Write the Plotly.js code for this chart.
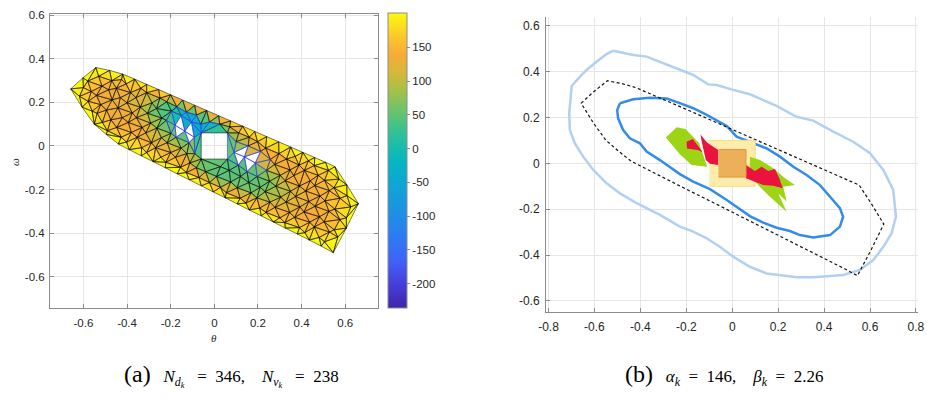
<!DOCTYPE html>
<html><head><meta charset="utf-8">
<script src="https://cdn.plot.ly/plotly-3.0.1.min.js"></script>
<style>html,body{margin:0;padding:0;background:#fff}</style>
</head><body><div id="chart" style="width:927px;height:399px"></div>
<script>
// ---------------- DATA ----------------
// (a) mesh boundary (also the dashed polygon in (b))
const boundaryX = [-0.658,-0.602,-0.543,-0.480,-0.420,-0.365,-0.310,-0.255,-0.200,-0.145,-0.090,-0.035,0.020,0.075,0.130,0.185,0.240,0.295,0.350,0.405,0.460,0.510,0.553,0.607,0.660,0.605,0.545,0.490,0.435,0.380,0.325,0.270,0.215,0.160,0.105,0.050,-0.005,-0.060,-0.115,-0.170,-0.225,-0.280,-0.335,-0.390,-0.440,-0.495,-0.550,-0.606];
const boundaryY = [0.262,0.313,0.360,0.347,0.330,0.307,0.283,0.259,0.235,0.211,0.187,0.163,0.139,0.115,0.091,0.067,0.043,0.019,-0.005,-0.029,-0.053,-0.075,-0.095,-0.178,-0.265,-0.377,-0.490,-0.460,-0.432,-0.404,-0.377,-0.349,-0.321,-0.294,-0.266,-0.238,-0.211,-0.183,-0.155,-0.128,-0.100,-0.072,-0.045,-0.017,0.009,0.053,0.100,0.178];
const boundaryV = [210,210,210,210,210,210,205,205,200,195,200,200,200,205,205,205,205,210,210,210,210,210,210,210,210,210,210,210,210,210,210,210,210,210,210,210,210,210,210,210,210,210,210,210,210,210,210,210];

// (a) interior mesh nodes (null = void node)
const meshX = [
-0.618,-0.600,
-0.560,-0.578,-0.564,-0.580,
-0.513,-0.537,-0.521,-0.540,-0.515,-0.530,
-0.490,-0.474,-0.494,-0.468,-0.484,-0.470,
-0.427,-0.447,-0.422,-0.441,-0.431,-0.449,-0.425,
-0.402,-0.380,-0.394,-0.376,-0.400,-0.384,-0.404,
-0.333,-0.353,-0.331,-0.357,-0.339,-0.359,-0.337,
-0.310,-0.288,-0.314,-0.292,-0.306,-0.286,-0.310,
-0.245,-0.269,-0.243,-0.263,-0.241,-0.265,-0.249,
-0.222,-0.200,-0.216,-0.198,-0.220,-0.196,-0.218,
-0.155,-0.178,-0.152,-0.175,-0.180,-0.152,-0.172,
-0.128,-0.112,-0.126,-0.115,-0.135,-0.105,-0.128,
-0.070,-0.082,-0.090,-0.092,-0.062,-0.082,
-0.022,-0.040,-0.022,
0.028,0.010,0.028,0.025,
0.055,0.075,0.068,0.090,0.070,
0.118,0.105,0.120,0.110,0.138,0.100,0.112,
0.145,0.168,0.158,0.150,0.155,0.160,
0.208,0.195,0.210,0.196,0.188,0.212,0.198,
0.237,0.255,0.233,0.253,0.239,0.257,0.235,
0.300,0.278,0.304,0.282,0.302,0.276,0.296,
0.323,0.345,0.329,0.349,0.325,0.347,0.331,
0.390,0.368,0.392,0.372,0.390,0.364,0.388,0.370,
0.415,0.437,0.411,0.433,0.419,0.439,0.413,0.431,
0.480,0.458,0.482,0.462,0.484,0.460,0.476,0.458,
0.505,0.527,0.503,0.525,0.507,0.527,0.505,0.523,
0.566,0.550,0.575,0.552,0.576,0.548,0.571,
0.605,0.625,0.608,
-0.060,0.060,0.060,-0.060];
const meshY = [
0.228,0.268,
0.160,0.205,0.250,0.298,
0.108,0.150,0.190,0.232,0.275,0.320,
0.070,0.120,0.165,0.212,0.258,0.300,
0.040,0.085,0.130,0.175,0.222,0.265,0.305,
0.018,0.062,0.108,0.152,0.198,0.245,0.285,
-0.008,0.040,0.085,0.130,0.178,0.222,0.265,
-0.030,0.015,0.060,0.105,0.150,0.198,0.245,
-0.052,-0.008,0.038,0.082,0.128,0.172,0.220,
-0.075,-0.030,0.015,0.058,0.118,0.160,0.203,
-0.098,-0.052,-0.010,0.040,0.095,0.140,0.180,
-0.122,-0.078,-0.035,0.015,0.068,0.110,0.155,
-0.145,-0.100,-0.035,0.040,0.100,0.142,
-0.168,-0.118,0.110,
-0.190,-0.140,-0.095,0.100,
-0.215,-0.165,-0.112,-0.030,0.088,
-0.240,-0.192,-0.140,-0.088,-0.050,0.020,0.060,
-0.262,-0.215,-0.168,-0.118,0.000,0.040,
-0.285,-0.238,-0.190,-0.140,-0.078,-0.025,0.020,
-0.305,-0.258,-0.210,-0.162,-0.112,-0.062,-0.010,
-0.330,-0.282,-0.235,-0.185,-0.135,-0.085,-0.035,
-0.352,-0.305,-0.258,-0.208,-0.160,-0.110,-0.060,
-0.375,-0.328,-0.280,-0.232,-0.184,-0.136,-0.088,-0.048,
-0.398,-0.350,-0.303,-0.255,-0.207,-0.160,-0.112,-0.068,
-0.420,-0.372,-0.325,-0.277,-0.230,-0.182,-0.135,-0.090,
-0.440,-0.395,-0.348,-0.300,-0.252,-0.205,-0.158,-0.112,
-0.418,-0.385,-0.338,-0.290,-0.240,-0.192,-0.152,
-0.330,-0.280,-0.228,
0.060,0.060,-0.060,-0.060];
const meshV = [
185,180,
185,160,150,180,
185,150,140,138,140,172,
180,140,135,132,135,160,
175,140,135,135,130,140,165,
180,145,138,135,125,135,155,
175,140,135,130,115,105,142,
170,140,130,115,80,70,138,
175,138,115,80,50,45,100,
175,138,105,60,35,25,60,
185,138,100,50,null,-20,20,
185,125,90,50,null,-45,-30,
165,70,85,null,-40,-15,
150,50,-25,
138,45,50,40,
165,50,45,null,90,
170,75,45,40,null,50,138,
175,65,45,50,110,140,
170,90,55,50,null,120,145,
170,115,70,55,90,132,150,
170,125,105,80,110,140,150,
175,132,120,108,128,140,142,
175,140,132,122,136,140,142,175,
180,140,140,130,140,140,145,172,
185,150,140,140,145,140,150,178,
190,158,145,145,150,145,158,180,
190,165,158,162,158,170,185,
195,185,190,
-30,60,40,60];

// central hole / boxes
const innerBoxX = [-0.06,0.06,0.06,-0.06];
const innerBoxY = [0.06,0.06,-0.06,-0.06];
const outerBoxX = [-0.10,0.10,0.10,-0.10];
const outerBoxY = [0.10,0.10,-0.10,-0.10];

// colour bar
const cbMin = -236, cbMax = 201;
const cbTickVals = [-200,-150,-100,-50,0,50,100,150];
const cbTickText = ['-200','-150','-100','-50','0','50','100','150'];

// axis ticks
const leftTickVals = [-0.6,-0.4,-0.2,0,0.2,0.4,0.6];
const leftTickText = ['-0.6','-0.4','-0.2','0','0.2','0.4','0.6'];
const rightXTickVals = [-0.8,-0.6,-0.4,-0.2,0,0.2,0.4,0.6,0.8];
const rightXTickText = ['-0.8','-0.6','-0.4','-0.2','0','0.2','0.4','0.6','0.8'];
const rightYTickVals = [-0.6,-0.4,-0.2,0,0.2,0.4,0.6];
const rightYTickText = ['-0.6','-0.4','-0.2','0','0.2','0.4','0.6'];

// (b) contours
const outerX = [-0.518,-0.431,-0.373,-0.315,-0.242,-0.170,-0.105,-0.068,0.004,0.077,0.193,0.280,0.353,0.440,0.527,0.600,0.658,0.701,0.713,0.694,0.658,0.614,0.556,0.483,0.426,0.353,0.280,0.208,0.150,0.077,0.004,-0.054,-0.111,-0.170,-0.228,-0.315,-0.373,-0.416,-0.489,-0.547,-0.605,-0.649,-0.685,-0.707,-0.710,-0.699,-0.663,-0.634,-0.591,-0.547,-0.518];
const outerY = [0.491,0.472,0.465,0.443,0.414,0.385,0.344,0.341,0.320,0.301,0.250,0.203,0.186,0.138,0.094,0.044,-0.029,-0.116,-0.233,-0.305,-0.364,-0.422,-0.465,-0.487,-0.491,-0.497,-0.497,-0.487,-0.480,-0.451,-0.407,-0.364,-0.327,-0.298,-0.276,-0.225,-0.196,-0.174,-0.131,-0.087,-0.029,0.029,0.087,0.145,0.218,0.337,0.378,0.407,0.443,0.476,0.491];
const innerX = [-0.489,-0.431,-0.358,-0.286,-0.228,-0.170,-0.111,-0.054,-0.024,0.019,0.077,0.150,0.208,0.266,0.324,0.382,0.426,0.469,0.483,0.469,0.426,0.353,0.295,0.251,0.193,0.135,0.077,0.019,-0.024,-0.097,-0.170,-0.228,-0.271,-0.315,-0.373,-0.402,-0.446,-0.475,-0.497,-0.501,-0.489];
const innerY = [0.262,0.279,0.286,0.282,0.262,0.240,0.211,0.181,0.163,0.116,0.094,0.065,0.029,-0.015,-0.051,-0.095,-0.146,-0.196,-0.233,-0.276,-0.313,-0.323,-0.313,-0.295,-0.281,-0.259,-0.230,-0.189,-0.160,-0.113,-0.080,-0.047,-0.015,0.014,0.051,0.087,0.109,0.145,0.196,0.232,0.262];

// (b) green / red regions
const greenAX = [-0.289,-0.242,-0.203,-0.144,-0.109,-0.177,-0.228];
const greenAY = [0.112,0.157,0.150,0.087,-0.015,-0.007,0.039];
const greenBX = [0.077,0.121,0.179,0.230,0.273,0.222,0.237,0.200,0.237,0.164,0.113,0.077];
const greenBY = [0.029,0.014,-0.022,-0.065,-0.095,-0.102,-0.167,-0.131,-0.211,-0.146,-0.095,-0.058];
const redAX = [-0.199,-0.172,-0.152,-0.129,-0.150,-0.197];
const redAY = [0.094,0.106,0.080,0.048,0.058,0.065];
const redBX = [-0.138,-0.111,-0.083,-0.061,-0.061,-0.097,-0.115,-0.126,-0.133];
const redBY = [0.126,0.092,0.072,0.058,-0.007,-0.002,0.014,0.058,0.094];
const redCX = [0.060,0.099,0.128,0.157,0.186,0.205,0.220,0.179,0.135,0.099,0.060];
const redCY = [-0.007,-0.034,-0.015,-0.034,-0.025,-0.065,-0.109,-0.098,-0.095,-0.080,-0.065];

// ---------------- HELPERS ----------------
const parulaStops = [
 [0.00,62,38,168],[0.08,70,62,218],[0.16,64,98,248],[0.25,42,126,242],
 [0.33,28,146,226],[0.42,14,166,212],[0.50,6,182,192],[0.58,40,192,158],
 [0.66,100,196,112],[0.74,168,192,70],[0.80,214,184,58],[0.86,246,172,54],
 [0.92,252,200,44],[1.00,249,251,14]];
const parulaScale = parulaStops.map(s => [s[0], `rgb(${s[1]},${s[2]},${s[3]})`]);
function valueToColor(v){
  let f = (v - cbMin)/(cbMax - cbMin);
  f = Math.max(0, Math.min(1, f));
  for (let i=1;i<parulaStops.length;i++){
    const a = parulaStops[i-1], b = parulaStops[i];
    if (f <= b[0]) {
      const t = (f - a[0])/(b[0]-a[0]);
      const c = [1,2,3].map(k => Math.round(a[k] + t*(b[k]-a[k])));
      return `rgb(${c[0]},${c[1]},${c[2]})`;
    }
  }
  return 'rgb(249,251,14)';
}
function triangulate(px, py){
  const n = px.length;
  let minX=Infinity,minY=Infinity,maxX=-Infinity,maxY=-Infinity;
  for (let i=0;i<n;i++){minX=Math.min(minX,px[i]);maxX=Math.max(maxX,px[i]);minY=Math.min(minY,py[i]);maxY=Math.max(maxY,py[i]);}
  const d = Math.max(maxX-minX, maxY-minY)*20, mx=(minX+maxX)/2, my=(minY+maxY)/2;
  const X = px.slice(), Y = py.slice();
  X.push(mx-d, mx, mx+d); Y.push(my-d, my+d, my-d);
  function circ(a,b,c){
    const ax=X[a],ay=Y[a],bx=X[b],by=Y[b],cx=X[c],cy=Y[c];
    const D = 2*(ax*(by-cy)+bx*(cy-ay)+cx*(ay-by));
    const A=ax*ax+ay*ay,B=bx*bx+by*by,C=cx*cx+cy*cy;
    const ux=(A*(by-cy)+B*(cy-ay)+C*(ay-by))/D;
    const uy=(A*(cx-bx)+B*(ax-cx)+C*(bx-ax))/D;
    return {a,b,c,x:ux,y:uy,r2:(ax-ux)*(ax-ux)+(ay-uy)*(ay-uy)};
  }
  let tris=[circ(n,n+1,n+2)];
  for (let i=0;i<n;i++){
    const x=X[i],y=Y[i];
    const edges=[],keep=[];
    for (const t of tris){
      if ((x-t.x)*(x-t.x)+(y-t.y)*(y-t.y) < t.r2) edges.push([t.a,t.b],[t.b,t.c],[t.c,t.a]);
      else keep.push(t);
    }
    const cnt=new Map();
    const key=(a,b)=> a<b? a+','+b : b+','+a;
    for (const [a,b] of edges){const k=key(a,b);cnt.set(k,(cnt.get(k)||0)+1);}
    for (const [a,b] of edges){ if (cnt.get(key(a,b))===1) keep.push(circ(a,b,i)); }
    tris=keep;
  }
  return tris.filter(t=>t.a<n&&t.b<n&&t.c<n).map(t=>[t.a,t.b,t.c]);
}
function inPoly(x,y,PX,PY){
  let ins=false;
  for (let i=0,j=PX.length-1;i<PX.length;j=i++){
    if (((PY[i]>y)!==(PY[j]>y)) && (x < (PX[j]-PX[i])*(y-PY[i])/(PY[j]-PY[i])+PX[i])) ins=!ins;
  }
  return ins;
}

// ---------------- BUILD (a) ----------------
const allX = boundaryX.concat(meshX), allY = boundaryY.concat(meshY), allV = boundaryV.concat(meshV);
const holeMinX=Math.min(...innerBoxX),holeMaxX=Math.max(...innerBoxX),holeMinY=Math.min(...innerBoxY),holeMaxY=Math.max(...innerBoxY);
const tris = triangulate(allX, allY).filter(t=>{
  const cx=(allX[t[0]]+allX[t[1]]+allX[t[2]])/3, cy=(allY[t[0]]+allY[t[1]]+allY[t[2]])/3;
  const area=Math.abs((allX[t[1]]-allX[t[0]])*(allY[t[2]]-allY[t[0]])-(allX[t[2]]-allX[t[0]])*(allY[t[1]]-allY[t[0]]));
  if (area<1e-7) return false;
  if (cx>holeMinX&&cx<holeMaxX&&cy>holeMinY&&cy<holeMaxY) return false;
  return inPoly(cx,cy,boundaryX,boundaryY);
});

const traces=[];
const blackEX=[],blackEY=[],blueEX=[],blueEY=[];
const cenX=[],cenY=[],cenV=[];
for (const t of tris){
  const vs=t.map(i=>allV[i]);
  const good=vs.filter(v=>v!==null);
  const voids=3-good.length;
  const xs=t.map(i=>allX[i]), ys=t.map(i=>allY[i]);
  let fill, blue=false;
  if (voids>=2){ fill='#ffffff'; blue=true; }
  else {
    const m=good.reduce((a,b)=>a+b,0)/good.length;
    fill=valueToColor(m);
    if (voids===1 || m<0) blue=true;
    cenX.push((xs[0]+xs[1]+xs[2])/3); cenY.push((ys[0]+ys[1]+ys[2])/3); cenV.push(m);
  }
  traces.push({type:'scatter',mode:'lines',x:xs,y:ys,fill:'toself',fillcolor:fill,line:{width:0,color:fill},hoverinfo:'skip',xaxis:'x',yaxis:'y'});
  const EX=blue?blueEX:blackEX, EY=blue?blueEY:blackEY;
  EX.push(xs[0],xs[1],xs[2],xs[0],null); EY.push(ys[0],ys[1],ys[2],ys[0],null);
}
traces.push({type:'scatter',mode:'lines',x:blackEX,y:blackEY,line:{color:'rgba(0,0,0,0.85)',width:0.6},hoverinfo:'skip',xaxis:'x',yaxis:'y'});
traces.push({type:'scatter',mode:'lines',x:blueEX,y:blueEY,line:{color:'rgb(45,60,235)',width:0.6},hoverinfo:'skip',xaxis:'x',yaxis:'y'});
traces.push({type:'scatter',mode:'markers',x:cenX,y:cenY,hoverinfo:'skip',xaxis:'x',yaxis:'y',
  marker:{size:1,opacity:0,color:cenV,cmin:cbMin,cmax:cbMax,colorscale:parulaScale,showscale:true,
    colorbar:{x:388/927,xanchor:'left',xref:'paper',y:1-308/399,yanchor:'bottom',yref:'paper',
      len:295,lenmode:'pixels',thickness:19,thicknessmode:'pixels',outlinecolor:'#8c8c8c',outlinewidth:1,
      xpad:0,ypad:0,tickmode:'array',tickvals:cbTickVals,ticktext:cbTickText,ticks:'outside',ticklen:3,
      tickcolor:'#8c8c8c',tickfont:{size:11.5,color:'#262626',family:'"Liberation Sans", Arial, sans-serif'}}}});

// ---------------- BUILD (b) ----------------
traces.push({type:'scatter',mode:'lines',x:outerX,y:outerY,line:{color:'rgb(178,208,240)',width:2.5},hoverinfo:'skip',xaxis:'x2',yaxis:'y2'});
traces.push({type:'scatter',mode:'lines',x:innerX,y:innerY,line:{color:'rgb(52,140,232)',width:2.5},hoverinfo:'skip',xaxis:'x2',yaxis:'y2'});
traces.push({type:'scatter',mode:'lines',x:boundaryX.concat([boundaryX[0]]),y:boundaryY.concat([boundaryY[0]]),line:{color:'#111',width:1.2,dash:'3px,2.5px'},hoverinfo:'skip',xaxis:'x2',yaxis:'y2'});
traces.push({type:'scatter',mode:'lines',x:outerBoxX,y:outerBoxY,fill:'toself',fillcolor:'rgb(253,236,170)',line:{color:'rgb(250,222,120)',width:1},hoverinfo:'skip',xaxis:'x2',yaxis:'y2'});
for (const [gx,gy] of [[greenAX,greenAY],[greenBX,greenBY]])
  traces.push({type:'scatter',mode:'lines',x:gx,y:gy,fill:'toself',fillcolor:'rgb(158,212,22)',line:{width:0,color:'rgb(158,212,22)'},hoverinfo:'skip',xaxis:'x2',yaxis:'y2'});
for (const [rx,ry] of [[redAX,redAY],[redBX,redBY],[redCX,redCY]])
  traces.push({type:'scatter',mode:'lines',x:rx,y:ry,fill:'toself',fillcolor:'rgb(234,18,62)',line:{width:0,color:'rgb(234,18,62)'},hoverinfo:'skip',xaxis:'x2',yaxis:'y2'});
traces.push({type:'scatter',mode:'lines',x:innerBoxX,y:innerBoxY,fill:'toself',fillcolor:'rgb(236,176,88)',line:{color:'rgb(228,150,68)',width:1},hoverinfo:'skip',xaxis:'x2',yaxis:'y2'});

// ---------------- LAYOUT ----------------
const tickFont={family:'"Liberation Sans", Arial, sans-serif',size:11.5,color:'#262626'};
const baseAx={tickmode:'array',showgrid:true,gridcolor:'#e6e6e6',gridwidth:1,zeroline:false,showline:true,
  linecolor:'#8c8c8c',linewidth:1,ticks:'inside',ticklen:4,tickcolor:'#8c8c8c',tickfont:tickFont,fixedrange:true};
const serif='"Liberation Serif", "DejaVu Serif", serif';
const sp='&nbsp;';
const layout={
  width:927,height:399,margin:{l:0,r:0,t:0,b:0},paper_bgcolor:'#fff',plot_bgcolor:'#fff',
  showlegend:false,hovermode:false,
  xaxis:Object.assign({},baseAx,{domain:[50/927,378/927],range:[-0.753,0.75],tickvals:leftTickVals,ticktext:leftTickText,mirror:'ticks',anchor:'y',ticklabelstandoff:4}),
  yaxis:Object.assign({},baseAx,{domain:[1-308/399,1-14/399],range:[-0.744,0.606],tickvals:leftTickVals,ticktext:leftTickText,mirror:'ticks',anchor:'x',ticklabelstandoff:2}),
  xaxis2:Object.assign({},baseAx,{domain:[546/927,918/927],range:[-0.811,0.809],tickvals:rightXTickVals,ticktext:rightXTickText,anchor:'y2',tickfont:Object.assign({},tickFont,{size:12}),ticklabelstandoff:3}),
  yaxis2:Object.assign({},baseAx,{domain:[1-312.3/399,1-17.3/399],range:[-0.6495,0.6364],tickvals:rightYTickVals,ticktext:rightYTickText,anchor:'x2',tickfont:Object.assign({},tickFont,{size:12}),ticklabelstandoff:3}),
  annotations:[
    {xref:'paper',yref:'paper',x:214/927,y:1-338/399,text:'<i>θ</i>',showarrow:false,xanchor:'center',yanchor:'middle',font:{family:serif,size:11,color:'#262626'}},
    {xref:'paper',yref:'paper',x:15/927,y:1-162/399,text:'<i>ω</i>',textangle:-90,showarrow:false,xanchor:'center',yanchor:'middle',font:{family:serif,size:11,color:'#262626'}},
    {xref:'paper',yref:'paper',x:231.5/927,y:1-375/399,showarrow:false,xanchor:'center',yanchor:'middle',font:{family:serif,size:17,color:'#000'},
      text:'<span style="font-size:24px">(a)</span>'+sp+sp+sp+'<i>N</i><sub><i>d</i><sub><i>k</i></sub></sub>'+sp+sp+sp+'='+sp+sp+'346,'+sp+sp+sp+sp+'<i>N</i><sub><i>v</i><sub><i>k</i></sub></sub>'+sp+sp+sp+'='+sp+sp+'238'},
    {xref:'paper',yref:'paper',x:724/927,y:1-375/399,showarrow:false,xanchor:'center',yanchor:'middle',font:{family:serif,size:17,color:'#000'},
      text:'<span style="font-size:24px">(b)</span>'+sp+sp+sp+'<i>α</i><sub><i>k</i></sub>'+sp+sp+'='+sp+sp+'146,'+sp+sp+sp+sp+'<i>β</i><sub><i>k</i></sub>'+sp+sp+'='+sp+sp+'2.26'}
  ]
};
Plotly.newPlot('chart',traces,layout,{staticPlot:true,displayModeBar:false});
</script></body></html>
